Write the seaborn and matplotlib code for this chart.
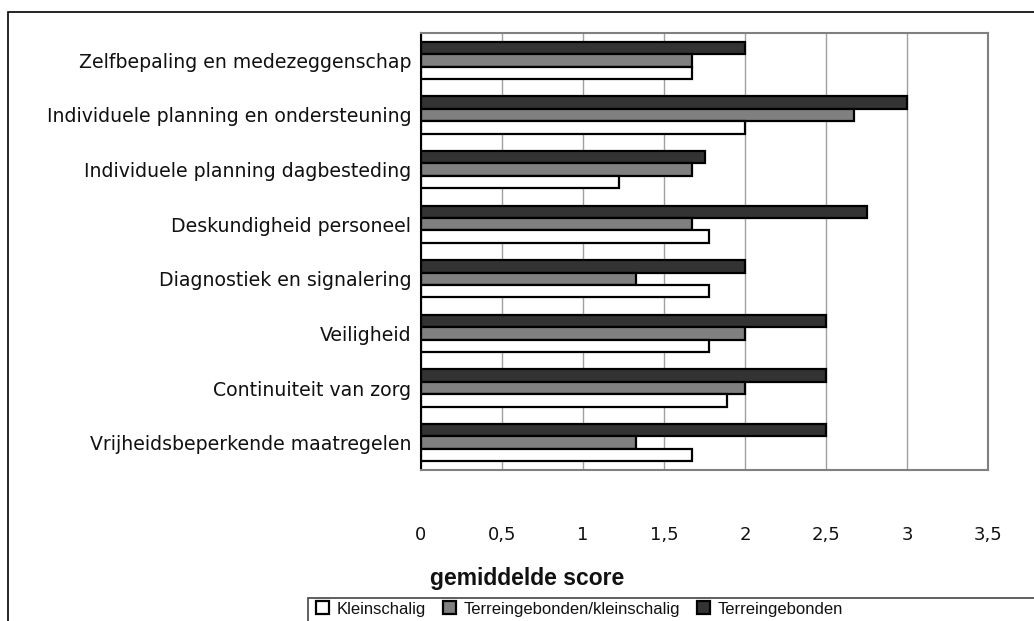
import pandas as pd
import seaborn as sns
import matplotlib.pyplot as plt
from matplotlib.patches import Patch, Rectangle
from matplotlib.ticker import MultipleLocator

# data
categories = ["Zelfbepaling en medezeggenschap",
              "Individuele planning en ondersteuning",
              "Individuele planning dagbesteding",
              "Deskundigheid personeel",
              "Diagnostiek en signalering",
              "Veiligheid",
              "Continuiteit van zorg",
              "Vrijheidsbeperkende maatregelen"]
kleinschalig = [1.67, 2.0, 1.22, 1.78, 1.78, 1.78, 1.89, 1.67]
terrein_klein = [1.67, 2.67, 1.67, 1.67, 1.33, 2.0, 2.0, 1.33]
terrein = [2.0, 3.0, 1.75, 2.75, 2.0, 2.5, 2.5, 2.5]
series_names = ["Kleinschalig", "Terreingebonden/kleinschalig", "Terreingebonden"]
xtick_values = [0, 0.5, 1, 1.5, 2, 2.5, 3, 3.5]
xtick_labels = ["0", "0,5", "1", "1,5", "2", "2,5", "3", "3,5"]

colors = {"Kleinschalig": "#ffffff",
          "Terreingebonden/kleinschalig": "#808080",
          "Terreingebonden": "#333333"}

rows = []
for name, vals in zip(series_names, [kleinschalig, terrein_klein, terrein]):
    for cat, v in zip(categories, vals):
        rows.append({"categorie": cat, "score": v, "type": name})
df = pd.DataFrame(rows)

sns.set_style("white")
plt.rcParams['font.family'] = ['DejaVu Sans']
plt.rcParams['text.color'] = '#111111'
plt.rcParams['xtick.labelcolor'] = '#111111'
plt.rcParams['ytick.labelcolor'] = '#111111'

fig = plt.figure(figsize=(10.34, 6.21), dpi=100)
ax = fig.add_axes([421 / 1034, 1 - 470 / 621, (988 - 421) / 1034, (470 - 33) / 621])

# dark bar on top of each group, white at the bottom
sns.barplot(data=df, x="score", y="categorie", hue="type",
            hue_order=series_names[::-1], palette=colors, orient="h",
            edgecolor="black", linewidth=1.6, width=0.68, ax=ax, legend=False)

ax.set_xlim(0, 3.5)
ax.set_ylim(7.5, -0.5)
ax.set_xticks(xtick_values)
ax.set_xticklabels(xtick_labels, fontsize=13)
ax.tick_params(axis="x", direction="out", length=6, width=1, color="#808080", pad=34)
ax.tick_params(axis="y", which="major", length=0, pad=7, labelsize=13.6)
ax.yaxis.set_minor_locator(MultipleLocator(1, offset=0.5))
ax.tick_params(axis="y", which="minor", direction="out", length=5, width=1, color="black")
ax.set_xlabel("")
ax.set_ylabel("")
ax.grid(axis="x", color="#a0a0a0", linewidth=1)
ax.set_axisbelow(True)

for side in ["top", "right", "bottom"]:
    ax.spines[side].set_visible(True)
    ax.spines[side].set_color("#808080")
    ax.spines[side].set_linewidth(1.5)
ax.spines["left"].set_color("black")
ax.spines["left"].set_linewidth(1.5)

fig.text(430 / 1034, 1 - 578 / 621, "gemiddelde score", fontsize=16.5,
         fontweight="bold", family=["Liberation Sans", "DejaVu Sans"],
         va="center", ha="left")

# outer chart frame and legend frame (both run past the image edge)
fig.patches.append(Rectangle((8 / 1034, -0.1), 1.2, 1 - 12 / 621 + 0.1,
                             transform=fig.transFigure, fill=False,
                             edgecolor="black", linewidth=1.2))
fig.patches.append(Rectangle((308 / 1034, -0.1), 1.2, 0.1 + 1 - 598 / 621,
                             transform=fig.transFigure, fill=False,
                             edgecolor="#444444", linewidth=1.2))

handles = [Patch(facecolor=colors[n], edgecolor="black", linewidth=1.6, label=n)
           for n in series_names]
leg = fig.legend(handles=handles, loc="center left",
                 bbox_to_anchor=(316 / 1034, 1 - 609 / 621), ncol=3,
                 frameon=False,
                 handlelength=0.8, handleheight=0.8, handletextpad=0.45,
                 columnspacing=1.0, borderpad=0.0, borderaxespad=0.0,
                 prop={"family": ["Liberation Sans", "DejaVu Sans"], "size": 12})

fig.savefig("out.png", dpi=100)
